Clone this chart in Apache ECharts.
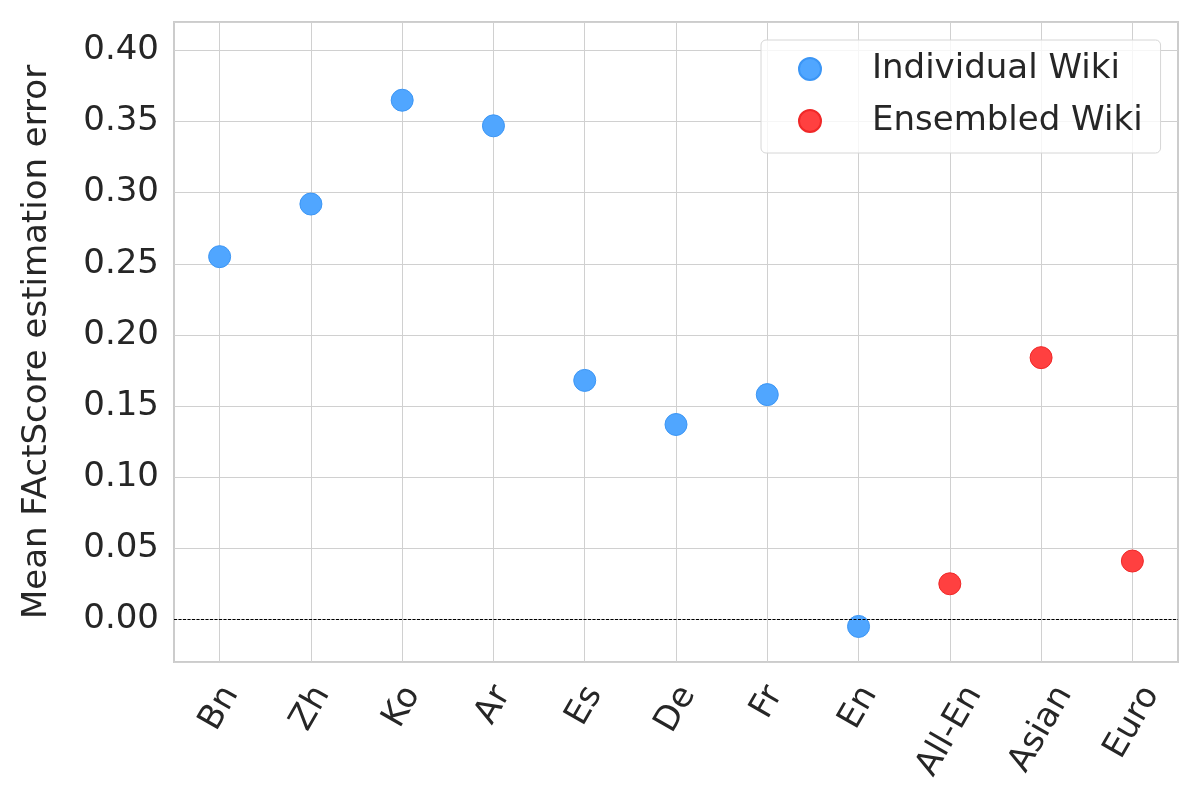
<!DOCTYPE html>
<html>
<head>
<meta charset="utf-8">
<script src="https://cdn.jsdelivr.net/npm/echarts@6/dist/echarts.min.js"></script>
<style>
html,body{margin:0;padding:0;background:#fff;}
#chart{width:1200px;height:800px;}
</style>
</head>
<body>
<div id="chart"></div>
<script>
// ---- data ----
const categories = ['Bn', 'Zh', 'Ko', 'Ar', 'Es', 'De', 'Fr', 'En', 'All-En', 'Asian', 'Euro'];
const individualCats = ['Bn', 'Zh', 'Ko', 'Ar', 'Es', 'De', 'Fr', 'En'];
const individualValues = [0.255, 0.292, 0.365, 0.347, 0.168, 0.137, 0.158, -0.005];
const ensembledCats = ['All-En', 'Asian', 'Euro'];
const ensembledValues = [0.025, 0.184, 0.041];
const yTicks = [0.00, 0.05, 0.10, 0.15, 0.20, 0.25, 0.30, 0.35, 0.40];
const seriesNames = ['Individual Wiki', 'Ensembled Wiki'];
const yAxisTitle = 'Mean FActScore estimation error';

// ---- styling ----
const FONT = 'DejaVu Sans';
const FS = 34;
const TEXT = '#262626';

// Rotated labels: ECharts anchors the text end at the tick; shift each label
// in its local frame (right padding + an empty first line of chosen height)
// so it sits centered under the tick like matplotlib's.
const cvs = document.createElement('canvas').getContext('2d');
cvs.font = FS + 'px "' + FONT + '"';
const catData = categories.map(c => {
  const w = cvs.measureText(c).width;
  const r = Math.max(0, 23.4 - 0.125 * w);
  const L = 2 * (0.2165 * w + 13.5);
  return { value: c, textStyle: { padding: [0, r, 0, 0], lineHeight: L } };
});

const chart = echarts.init(document.getElementById('chart'), null, { renderer: 'canvas' });
chart.setOption({
  animation: false,
  backgroundColor: '#ffffff',
  textStyle: { fontFamily: FONT, color: TEXT },
  grid: {
    left: 174, right: 22, top: 22, bottom: 138,
    containLabel: false,
    outerBoundsMode: 'none',
    show: true, borderColor: '#cccccc', borderWidth: 2, backgroundColor: 'transparent'
  },
  legend: {
    data: seriesNames,
    orient: 'vertical',
    left: 761, top: 40,
    padding: [12, 18, 15, 37],
    itemGap: 18,
    itemWidth: 22, itemHeight: 22,
    icon: 'circle',
    backgroundColor: 'rgba(255,255,255,0.8)',
    borderColor: '#d6d6d6', borderWidth: 1, borderRadius: 5,
    textStyle: { fontFamily: FONT, fontSize: FS, color: TEXT, padding: [0, 0, 0, 46] }
  },
  xAxis: {
    type: 'category',
    data: catData,
    boundaryGap: true,
    axisLine: { show: false },
    axisTick: { show: false, alignWithLabel: true },
    splitLine: { show: true, interval: 0, alignWithLabel: true, lineStyle: { color: '#d0d0d0', width: 1 } },
    axisLabel: {
      interval: 0, rotate: 60, margin: 0,
      align: 'right', verticalAlign: 'middle',
      formatter: v => '\n' + v,
      fontFamily: FONT, fontSize: FS, color: TEXT
    }
  },
  yAxis: {
    type: 'value',
    min: -0.03, max: 0.42,
    splitNumber: 9,
    name: yAxisTitle,
    nameLocation: 'middle',
    nameRotate: 90,
    nameGap: 120,
    nameTextStyle: { fontFamily: FONT, fontSize: FS, color: TEXT },
    axisLine: { show: false },
    axisTick: { show: false },
    splitLine: { show: true, lineStyle: { color: '#d0d0d0', width: 1 } },
    axisLabel: {
      margin: 15, fontFamily: FONT, fontSize: FS, color: TEXT,
      showMinLabel: false, showMaxLabel: false,
      formatter: v => {
        const hit = yTicks.find(t => Math.abs(t - v) < 1e-9);
        return hit === undefined ? '' : hit.toFixed(2);
      }
    }
  },
  series: [
    {
      name: seriesNames[0],
      type: 'scatter',
      symbol: 'circle',
      symbolSize: 22,
      itemStyle: { color: 'rgb(80,166,255)', borderColor: 'rgb(60,150,245)', borderWidth: 1, opacity: 1 },
      data: individualCats.map((c, i) => [c, individualValues[i]]),
      markLine: {
        silent: true, symbol: 'none',
        label: { show: false },
        lineStyle: { color: '#000000', width: 1, type: [3, 1.5] },
        data: [{ yAxis: 0 }],
        animation: false
      },
      z: 3
    },
    {
      name: seriesNames[1],
      type: 'scatter',
      symbol: 'circle',
      symbolSize: 22,
      itemStyle: { color: 'rgb(255,64,64)', borderColor: 'rgb(240,40,40)', borderWidth: 1, opacity: 1 },
      data: ensembledCats.map((c, i) => [c, ensembledValues[i]]),
      z: 3
    }
  ]
});
</script>
</body>
</html>
